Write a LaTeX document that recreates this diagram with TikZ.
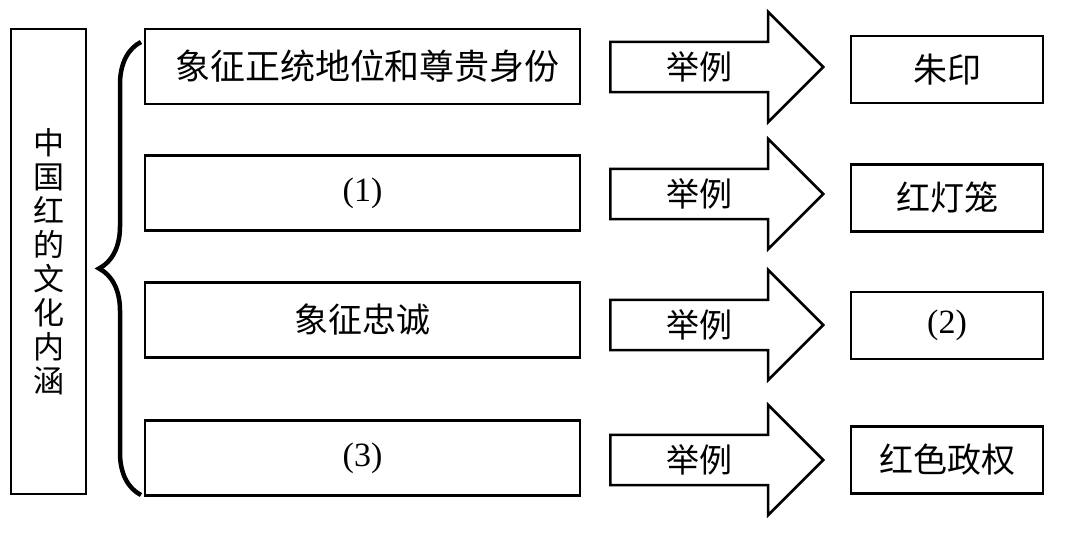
\documentclass[tikz,border=0pt]{standalone}
\usepackage{fontspec}
\setmainfont{Liberation Serif}
\newfontfamily\cjk{Noto Sans CJK SC}
\usetikzlibrary{shapes.arrows,decorations.pathreplacing,positioning}

\begin{document}
\begin{tikzpicture}[
    x=1pt, y=-1pt,
    font=\fontsize{34}{38}\selectfont,
    topicbox/.style={draw, line width=2.5pt, inner sep=0pt, align=center, minimum width=75pt, minimum height=465pt, font=\fontsize{31}{34}\selectfont\cjk},
    meaningbox/.style={draw, line width=2.5pt, inner sep=0pt, minimum width=435pt, minimum height=75pt},
    examplebox/.style={draw, line width=2.5pt, inner sep=0pt, minimum width=192pt, minimum height=67pt},
    egarrow/.style={draw, line width=2.5pt, single arrow, single arrow head extend=30pt, inner xsep=0pt, inner ysep=8.5pt, minimum height=213pt, anchor=tail, font=\fontsize{33}{38}\selectfont\cjk},
    bigbrace/.style={decorate, decoration={brace, amplitude=42pt}, line width=4.5pt}
]
\useasboundingbox (0,0) rectangle (1080,546);

% Topic
\node[topicbox] (topic) at (48.5,261.5) {中\\国\\红\\的\\文\\化\\内\\涵};

\coordinate (bracetop) at (141,42);
\coordinate (bracebot) at (141,495);
\draw[bigbrace] (bracebot) -- (bracetop);

% Meanings
\node[meaningbox] (m1) at (362.5,66.5) {\cjk\fontsize{35}{38}\selectfont 象征正统地位和尊贵身份\hspace*{-10pt}};
\node[meaningbox] (m2) at (362.5,193) {(1)};
\node[meaningbox] (m3) at (362.5,320) {\cjk 象征忠诚};
\node[meaningbox] (m4) at (362.5,458) {(3)};

% Examples
\node[egarrow] (a1) at (609,67) {举例\hspace*{10pt}};
\node[egarrow] (a2) at (609,194) {举例\hspace*{10pt}};
\node[egarrow] (a3) at (609,325) {举例\hspace*{10pt}};
\node[egarrow] (a4) at (609,460) {举例\hspace*{10pt}};

\node[examplebox] (e1) at (947,69.5) {\cjk 朱印};
\node[examplebox] (e2) at (947,198) {\cjk 红灯笼};
\node[examplebox] (e3) at (947,325.5) {(2)};
\node[examplebox] (e4) at (947,460) {\cjk 红色政权};
\end{tikzpicture}
\end{document}
